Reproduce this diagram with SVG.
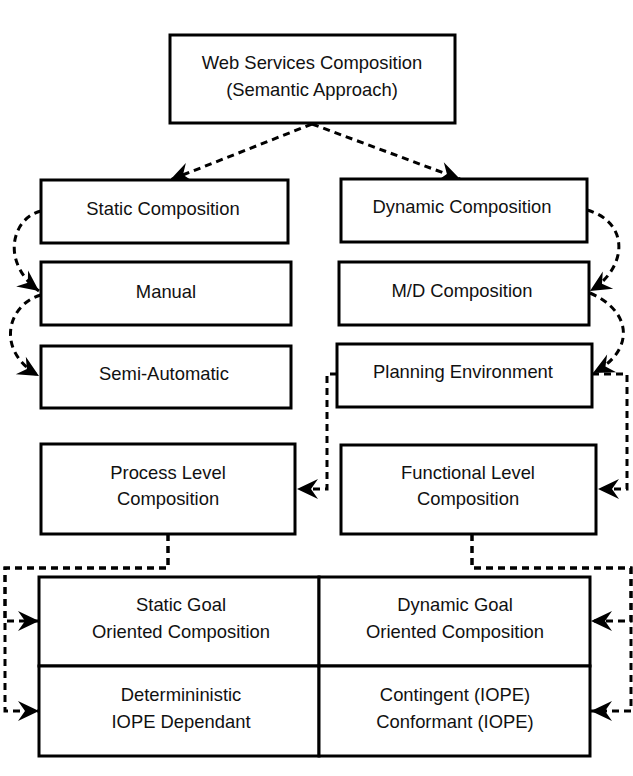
<svg xmlns="http://www.w3.org/2000/svg" width="633" height="776" viewBox="0 0 633 776">
<defs>
<style>
.box{fill:#fff;stroke:#000;stroke-width:3}
.t{font-family:"Liberation Sans",Arial,sans-serif;font-size:18.4px;fill:#111;text-anchor:middle}
.e{fill:none;stroke:#000;stroke-width:3;stroke-dasharray:7 5}
</style>
<marker id="arr" markerUnits="userSpaceOnUse" markerWidth="24" markerHeight="24" viewBox="0 0 24 24" refX="22" refY="12" orient="auto">
<path d="M1,2 L22,12 L1,22 L8,12 Z" fill="#000"/>
</marker>
</defs>
<rect width="633" height="776" fill="#fff"/>
<g id="connectors">
<path class="e" d="M312,124 L170,180" marker-end="url(#arr)"/>
<path class="e" d="M312,124 L460,179" marker-end="url(#arr)"/>
<path class="e" d="M41,211 C12,218 0,262 39,291" marker-end="url(#arr)"/>
<path class="e" d="M41,295 C8,304 -6,350 39,376" marker-end="url(#arr)"/>
<path class="e" d="M587,210 C630,222 628,268 590,291" marker-end="url(#arr)"/>
<path class="e" d="M590,293 C634,312 634,352 593,373" marker-end="url(#arr)"/>
<path class="e" d="M337,374 H327 V489 H297" marker-end="url(#arr)"/>
<path class="e" d="M592,374 H627 V489 H598" marker-end="url(#arr)"/>
<path class="e" d="M168,534 V568 H5 V621 H39" marker-end="url(#arr)"/>
<path class="e" d="M168,534 V568 H5 V711 H39" marker-end="url(#arr)"/>
<path class="e" d="M472,534 V568 H631 V621 H591" marker-end="url(#arr)"/>
<path class="e" d="M472,534 V568 H631 V711 H591" marker-end="url(#arr)"/>
</g>
<g id="n-web"><rect class="box" x="170" y="35" width="285" height="88"/><text class="t" x="312" y="69">Web Services Composition</text><text class="t" x="312" y="96">(Semantic Approach)</text></g>
<g id="n-static"><rect class="box" x="41" y="180" width="247" height="63"/><text class="t" x="163" y="215">Static Composition</text></g>
<g id="n-manual"><rect class="box" x="41" y="262" width="250" height="63"/><text class="t" x="166" y="298">Manual</text></g>
<g id="n-semi"><rect class="box" x="41" y="346" width="250" height="62"/><text class="t" x="164" y="380">Semi-Automatic</text></g>
<g id="n-dynamic"><rect class="box" x="341" y="179" width="246" height="63"/><text class="t" x="462" y="213">Dynamic Composition</text></g>
<g id="n-md"><rect class="box" x="339" y="262" width="250" height="63"/><text class="t" x="462" y="297">M/D Composition</text></g>
<g id="n-planning"><rect class="box" x="337" y="344" width="255" height="63"/><text class="t" x="463" y="378">Planning Environment</text></g>
<g id="n-process"><rect class="box" x="41" y="444" width="254" height="90"/><text class="t" x="168" y="479">Process Level</text><text class="t" x="168" y="505">Composition</text></g>
<g id="n-functional"><rect class="box" x="341" y="445" width="255" height="89"/><text class="t" x="468" y="479">Functional Level</text><text class="t" x="468" y="505">Composition</text></g>
<g id="n-staticgoal"><rect class="box" x="39" y="577" width="280" height="89"/><text class="t" x="181" y="611">Static Goal</text><text class="t" x="181" y="638">Oriented Composition</text></g>
<g id="n-determ"><rect class="box" x="39" y="666" width="280" height="90"/><text class="t" x="181" y="701">Determininistic</text><text class="t" x="181" y="728">IOPE Dependant</text></g>
<g id="n-dyngoal"><rect class="box" x="319" y="577" width="271" height="89"/><text class="t" x="455" y="611">Dynamic Goal</text><text class="t" x="455" y="638">Oriented Composition</text></g>
<g id="n-conting"><rect class="box" x="319" y="666" width="271" height="90"/><text class="t" x="455" y="701">Contingent (IOPE)</text><text class="t" x="455" y="728">Conformant (IOPE)</text></g>
</svg>
